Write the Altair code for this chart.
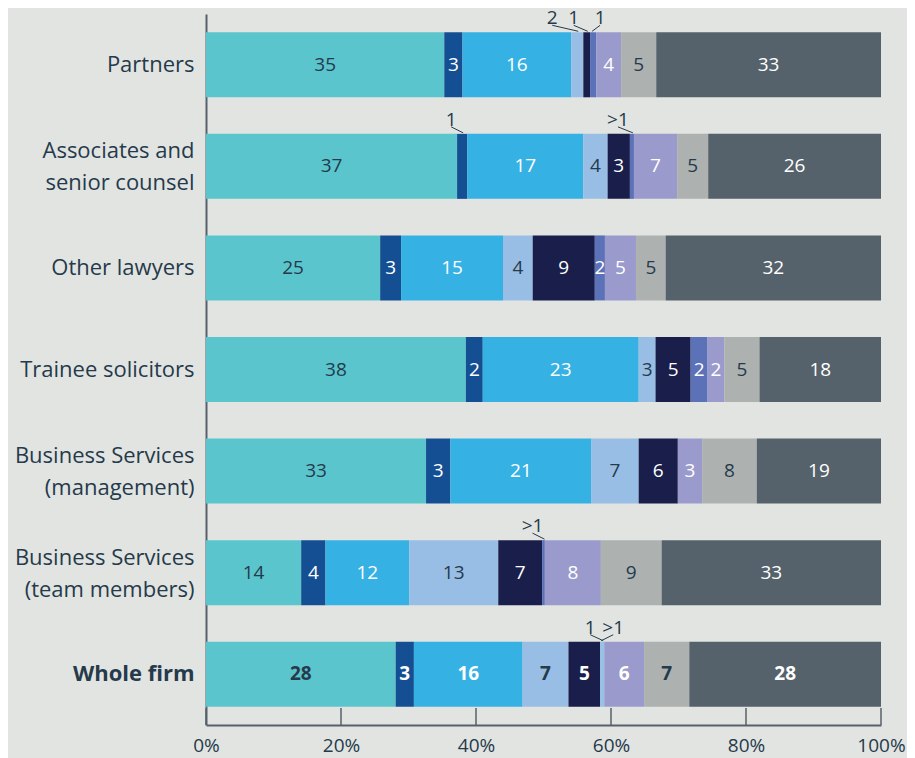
import altair as alt
import pandas as pd

FONT = "Open Sans"
DARK = "#253a4b"
AXIS = "#56616b"

categories = [
    "Partners",
    "Associates and\nsenior counsel",
    "Other lawyers",
    "Trainee solicitors",
    "Business Services\n(management)",
    "Business Services\n(team members)",
    "Whole firm",
]
series = ["s1", "s2", "s3", "s4", "s5", "s6", "s7", "s8", "s9", "s10"]
colors = ["#5bc5cd", "#154f93", "#36b1e3", "#99bee5", "#1a1e4b",
          "#97c1e8", "#5b72b9", "#9a9bcc", "#adb2b1", "#55626b"]
dark_text_series = ["s1", "s4", "s9"]

# segment widths (% of respondents), in series order
partners   = [35.3, 2.7, 16.1, 1.8, 1.0, 0.0, 0.9, 3.7, 5.2, 33.3]
associates = [37.2, 1.5, 17.2, 3.6, 3.3, 0.0, 0.6, 6.4, 4.6, 25.6]
other      = [25.8, 3.1, 15.1, 4.4, 9.2, 0.0, 1.5, 4.6, 4.4, 31.9]
trainee    = [38.5, 2.5, 23.1, 2.5, 5.2, 0.0, 2.5, 2.5, 5.2, 18.0]
bs_mgmt    = [32.6, 3.6, 20.9, 7.0, 5.8, 0.0, 0.0, 3.6, 8.1, 18.4]
bs_team    = [14.1, 3.6, 12.4, 13.2, 6.5, 0.0, 0.4, 8.3, 9.0, 32.5]
whole      = [28.1, 2.7, 16.1, 6.8, 4.7, 0.6, 0.0, 5.9, 6.7, 28.4]

# printed labels inside the segments
partners_lbl   = ["35", "3", "16", "", "", "", "", "4", "5", "33"]
associates_lbl = ["37", "", "17", "4", "3", "", "", "7", "5", "26"]
other_lbl      = ["25", "3", "15", "4", "9", "", "2", "5", "5", "32"]
trainee_lbl    = ["38", "2", "23", "3", "5", "", "2", "2", "5", "18"]
bs_mgmt_lbl    = ["33", "3", "21", "7", "6", "", "", "3", "8", "19"]
bs_team_lbl    = ["14", "4", "12", "13", "7", "", "", "8", "9", "33"]
whole_lbl      = ["28", "3", "16", "7", "5", "", "", "6", "7", "28"]

# callouts for small segments: (category index, series, text, label shift in px)
callouts = [
    (0, "s4", "2", -25), (0, "s5", "1", -13), (0, "s7", "1", 7),
    (1, "s2", "1", -11), (1, "s7", ">1", -14),
    (5, "s7", ">1", -11),
    (6, "s6", "1", -12), (6, "s6", ">1", 11),
]

tick_values = [0, 20, 40, 60, 80, 100]

all_vals = [partners, associates, other, trainee, bs_mgmt, bs_team, whole]
all_lbls = [partners_lbl, associates_lbl, other_lbl, trainee_lbl, bs_mgmt_lbl, bs_team_lbl, whole_lbl]

W, H = 675, 711
PX = W / 100.0

rows = []
for ci, (cat, vals, lbls) in enumerate(zip(categories, all_vals, all_lbls)):
    cum = 0.0
    for s, v, l in zip(series, vals, lbls):
        rows.append(dict(category=cat, series=s, start=cum, end=cum + v,
                         mid=cum + v / 2, label=l,
                         tcolor=DARK if s in dark_text_series else "#ffffff",
                         bold=(cat == "Whole firm")))
        cum += v
df = pd.DataFrame(rows)
seg = df[df["end"] > df["start"]]

ann = []
for ci, s, t, dx in callouts:
    r = df[(df["category"] == categories[ci]) & (df["series"] == s)].iloc[0]
    lx = r["mid"] + dx / PX
    ex = r["mid"] - (1 if dx > 0 else -1) * 1.0 / PX
    ann.append(dict(category=categories[ci], text=t, lx=lx, ex=ex))
ann = pd.DataFrame(ann)

ticks = pd.DataFrame({"t": tick_values})

ysort = categories
yscale = alt.Scale(paddingInner=0.36, paddingOuter=0.18)

bars = alt.Chart(seg).mark_bar().encode(
    x=alt.X("start:Q", scale=alt.Scale(domain=[0, 100], nice=False),
            axis=alt.Axis(values=tick_values, labelExpr="datum.value + '%'",
                          ticks=False, domain=True, domainColor=AXIS, domainWidth=2,
                          grid=False, labelFontSize=19, labelPadding=11,
                          labelColor=DARK, labelFont=FONT, labelFlush=False,
                          title=None)),
    x2="end:Q",
    y=alt.Y("category:N", sort=ysort, scale=yscale,
            axis=alt.Axis(title=None, ticks=False, domain=True, domainColor=AXIS,
                          domainWidth=2, labelFontSize=22, labelPadding=12,
                          labelLineHeight=32, labelColor=DARK, labelFont=FONT,
                          labelExpr="split(datum.label, '\\n')",
                          labelOffset={"condition": {"test": "indexof(datum.value, '\\n') >= 0",
                                                     "value": -15},
                                       "value": 0},
                          labelFontWeight={"condition": {"test": "datum.value == 'Whole firm'",
                                                         "value": "bold"},
                                           "value": "normal"})),
    color=alt.Color("series:N", scale=alt.Scale(domain=series, range=colors), legend=None),
)

ycenter = alt.Y("category:N", sort=ysort, bandPosition=0.5)

txt = alt.Chart(seg[(seg["label"] != "") & (~seg["bold"])]).mark_text(
    fontSize=19, font=FONT, baseline="middle", align="center"
).encode(x="mid:Q", y=ycenter, text="label:N", color=alt.Color("tcolor:N", scale=None))

txt_bold = alt.Chart(seg[(seg["label"] != "") & (seg["bold"])]).mark_text(
    fontSize=19, font=FONT, fontWeight="bold", baseline="middle", align="center"
).encode(x="mid:Q", y=ycenter, text="label:N", color=alt.Color("tcolor:N", scale=None))

tick_rules = alt.Chart(ticks).mark_rule(color=AXIS, strokeWidth=1.5).encode(
    x="t:Q", y=alt.value(H - 17), y2=alt.value(H)
)

ann_txt = alt.Chart(ann).mark_text(
    fontSize=19, font=FONT, baseline="alphabetic", align="center", color=DARK, dy=-40.5
).encode(x="lx:Q", y=ycenter, text="text:N")

leaders = alt.Chart(ann).mark_rule(color=DARK, strokeWidth=1, yOffset=-39.5, y2Offset=-33.5).encode(
    x="lx:Q", x2="ex:Q", y=ycenter, y2=alt.Y2("category:N", bandPosition=0.5)
)

chart = alt.layer(bars, tick_rules, txt, txt_bold, leaders, ann_txt).properties(
    width=W, height=H,
    autosize=alt.AutoSizeParams(type="none"),
    padding={"left": 198, "top": 6, "right": 26, "bottom": 33},
    background="#e2e4e1",
).configure_view(stroke=None)

chart.save("out.html", embed_options={"renderer": "svg", "actions": False})
